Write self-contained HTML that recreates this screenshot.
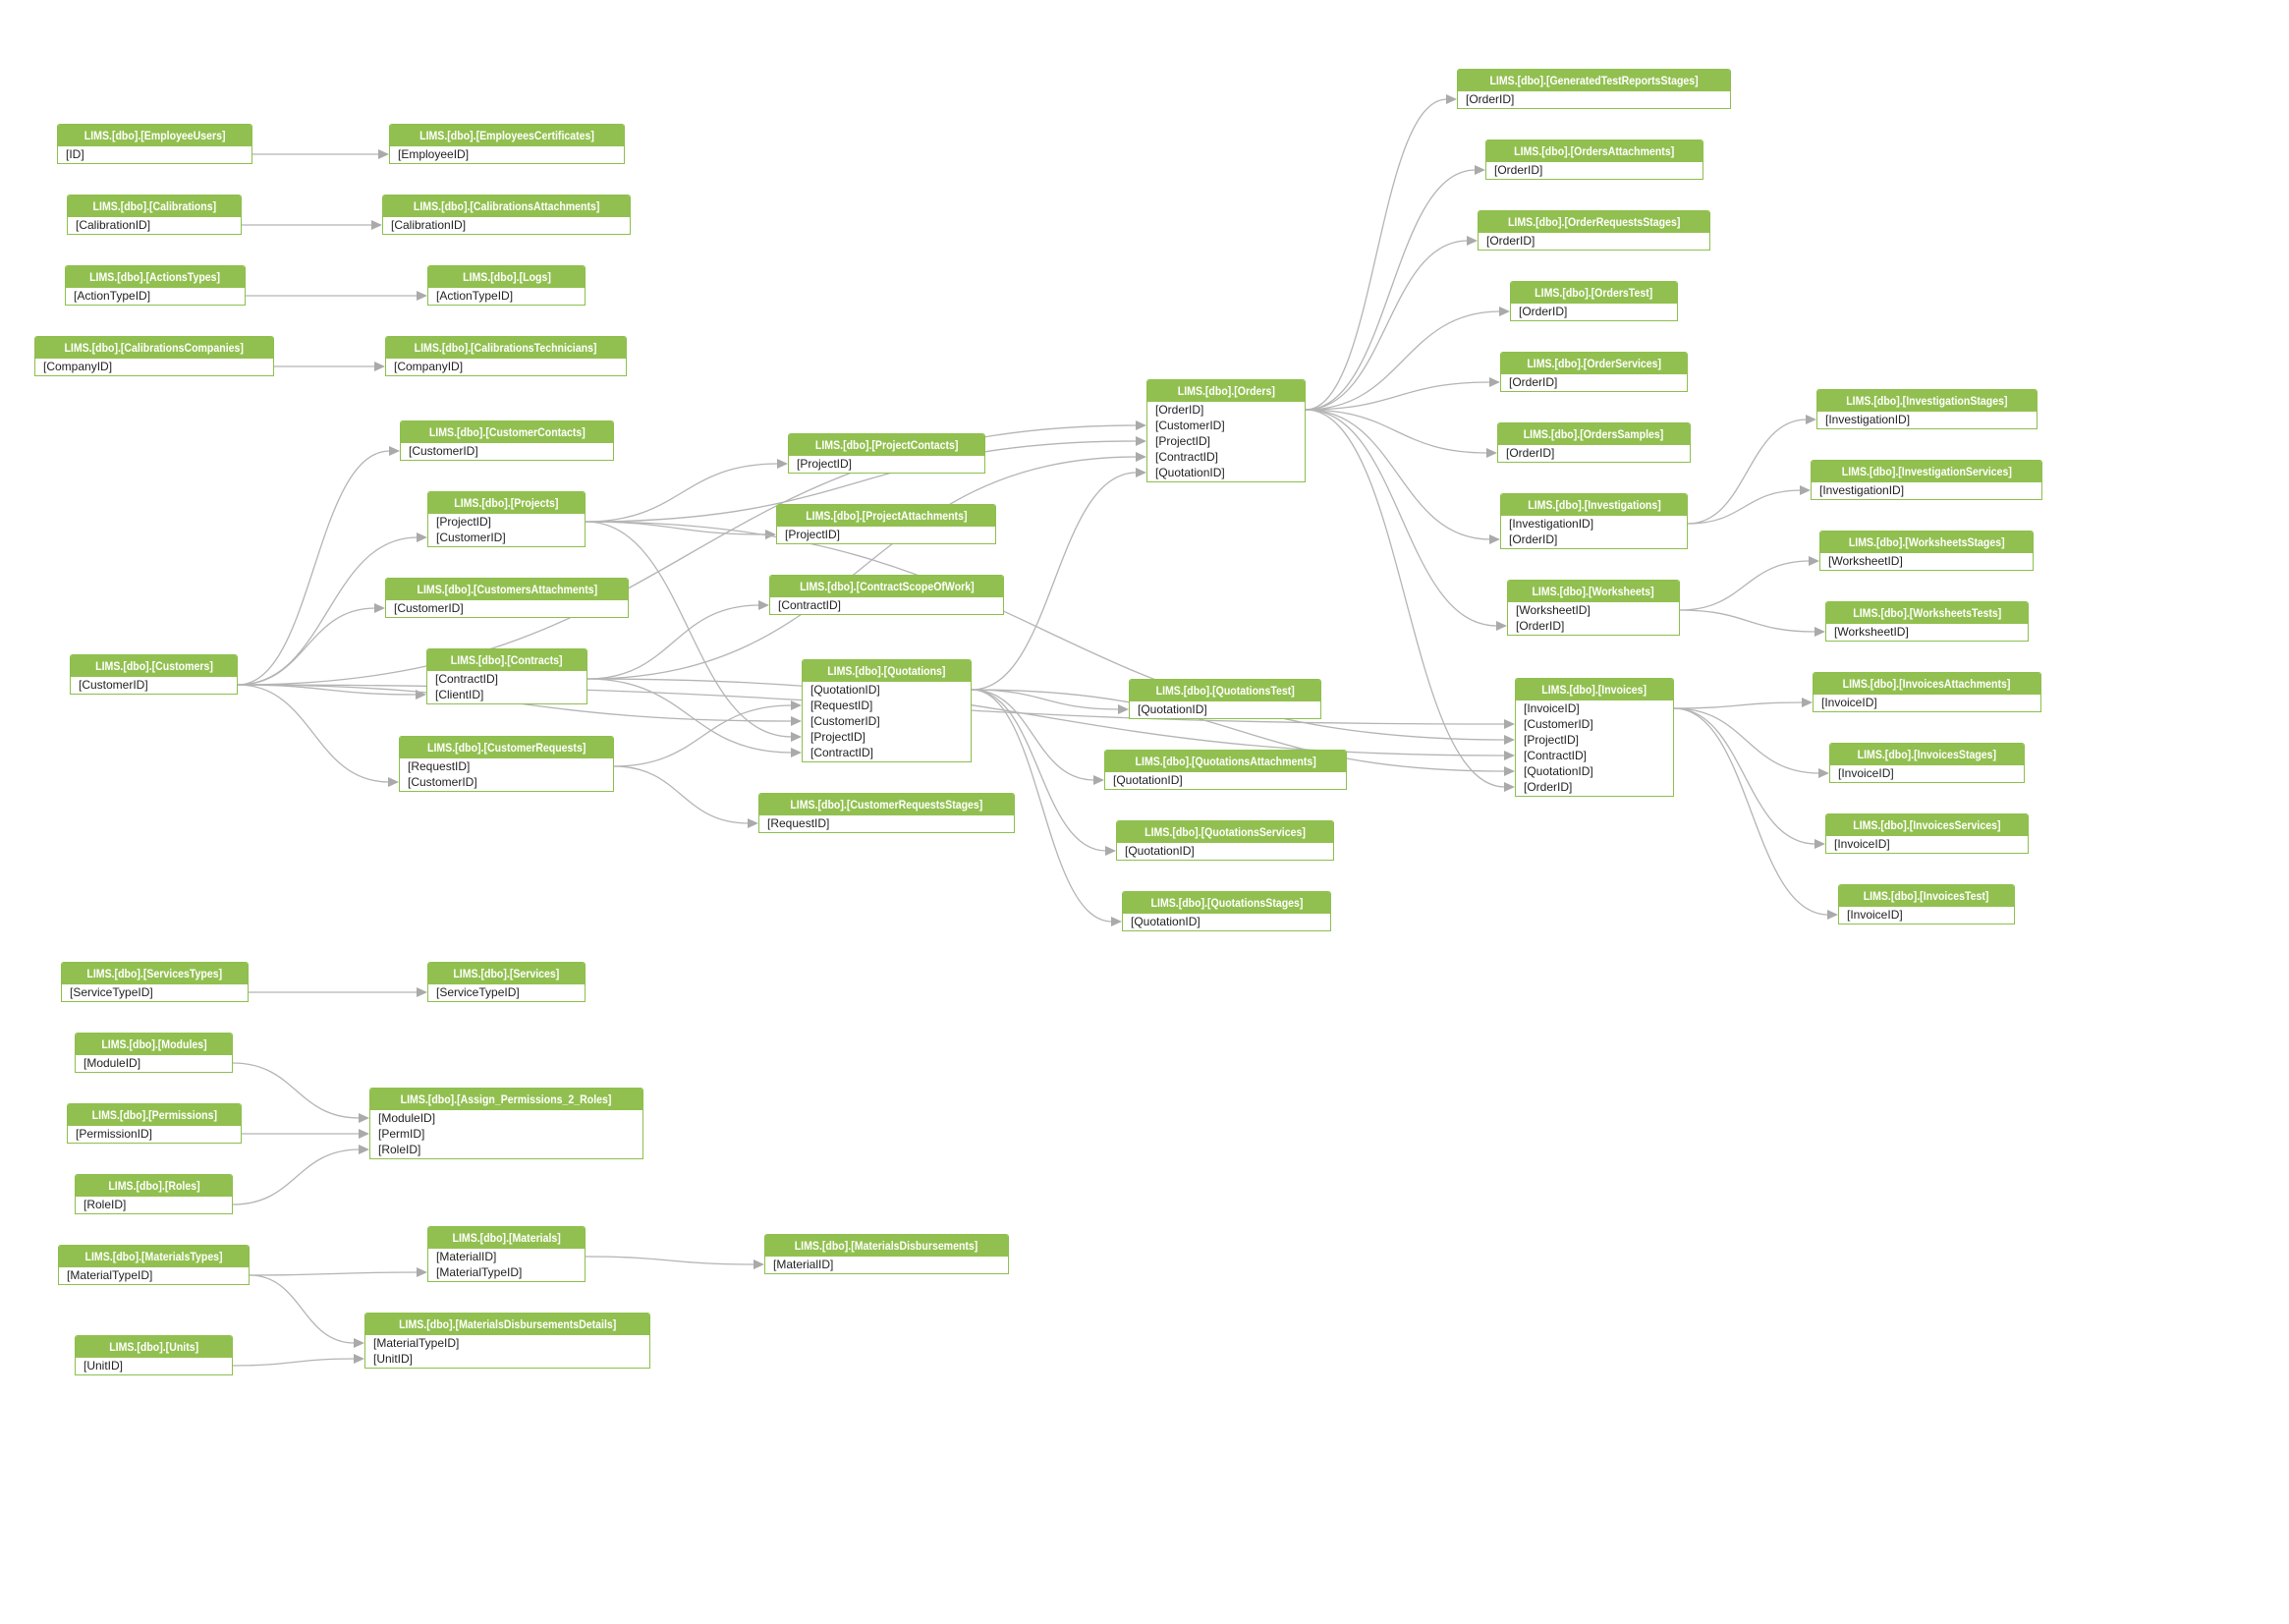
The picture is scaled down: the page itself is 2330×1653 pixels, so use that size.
<!DOCTYPE html>
<html><head><meta charset="utf-8">
<style>
html,body{margin:0;padding:0;background:#fff;}
body{width:2330px;height:1653px;position:relative;overflow:hidden;font-family:"Liberation Sans",sans-serif;}
svg{position:absolute;left:0;top:0;}
.b{position:absolute;border:1px solid #8dbf4c;background:#fff;box-sizing:border-box;border-radius:3px 3px 0 0;padding-bottom:1px;}
.h{height:22px;background:#92c050;color:#fff;font-weight:bold;font-size:12px;line-height:22px;text-align:center;white-space:nowrap;overflow:visible;border-radius:2px 2px 0 0;}
.h span{display:inline-block;transform:scaleX(0.88);transform-origin:center;}
.f{height:16px;line-height:16px;font-size:12px;color:#222;padding-left:8px;white-space:nowrap;}
</style></head><body>
<svg id="L" width="2330" height="1653"></svg>

<div class="b" id="eu" style="left:58px;top:126px;width:199px"><div class="h"><span>LIMS.[dbo].[EmployeeUsers]</span></div><div class="f">[ID]</div></div>
<div class="b" id="ec" style="left:396px;top:126px;width:240px"><div class="h"><span>LIMS.[dbo].[EmployeesCertificates]</span></div><div class="f">[EmployeeID]</div></div>
<div class="b" id="cal" style="left:68px;top:198px;width:178px"><div class="h"><span>LIMS.[dbo].[Calibrations]</span></div><div class="f">[CalibrationID]</div></div>
<div class="b" id="cala" style="left:389px;top:198px;width:253px"><div class="h"><span>LIMS.[dbo].[CalibrationsAttachments]</span></div><div class="f">[CalibrationID]</div></div>
<div class="b" id="at" style="left:66px;top:270px;width:184px"><div class="h"><span>LIMS.[dbo].[ActionsTypes]</span></div><div class="f">[ActionTypeID]</div></div>
<div class="b" id="logs" style="left:435px;top:270px;width:161px"><div class="h"><span>LIMS.[dbo].[Logs]</span></div><div class="f">[ActionTypeID]</div></div>
<div class="b" id="cc" style="left:35px;top:342px;width:244px"><div class="h"><span>LIMS.[dbo].[CalibrationsCompanies]</span></div><div class="f">[CompanyID]</div></div>
<div class="b" id="ct" style="left:392px;top:342px;width:246px"><div class="h"><span>LIMS.[dbo].[CalibrationsTechnicians]</span></div><div class="f">[CompanyID]</div></div>

<div class="b" id="cuc" style="left:407px;top:428px;width:218px"><div class="h"><span>LIMS.[dbo].[CustomerContacts]</span></div><div class="f">[CustomerID]</div></div>
<div class="b" id="proj" style="left:435px;top:500px;width:161px"><div class="h"><span>LIMS.[dbo].[Projects]</span></div><div class="f">[ProjectID]</div><div class="f">[CustomerID]</div></div>
<div class="b" id="cua" style="left:392px;top:588px;width:248px"><div class="h"><span>LIMS.[dbo].[CustomersAttachments]</span></div><div class="f">[CustomerID]</div></div>
<div class="b" id="con" style="left:434px;top:660px;width:164px"><div class="h"><span>LIMS.[dbo].[Contracts]</span></div><div class="f">[ContractID]</div><div class="f">[ClientID]</div></div>
<div class="b" id="cus" style="left:71px;top:666px;width:171px"><div class="h"><span>LIMS.[dbo].[Customers]</span></div><div class="f">[CustomerID]</div></div>
<div class="b" id="cr" style="left:406px;top:749px;width:219px"><div class="h"><span>LIMS.[dbo].[CustomerRequests]</span></div><div class="f">[RequestID]</div><div class="f">[CustomerID]</div></div>

<div class="b" id="pc" style="left:802px;top:441px;width:201px"><div class="h"><span>LIMS.[dbo].[ProjectContacts]</span></div><div class="f">[ProjectID]</div></div>
<div class="b" id="pa" style="left:790px;top:513px;width:224px"><div class="h"><span>LIMS.[dbo].[ProjectAttachments]</span></div><div class="f">[ProjectID]</div></div>
<div class="b" id="csw" style="left:783px;top:585px;width:239px"><div class="h"><span>LIMS.[dbo].[ContractScopeOfWork]</span></div><div class="f">[ContractID]</div></div>
<div class="b" id="quo" style="left:816px;top:671px;width:173px"><div class="h"><span>LIMS.[dbo].[Quotations]</span></div><div class="f">[QuotationID]</div><div class="f">[RequestID]</div><div class="f">[CustomerID]</div><div class="f">[ProjectID]</div><div class="f">[ContractID]</div></div>
<div class="b" id="crs" style="left:772px;top:807px;width:261px"><div class="h"><span>LIMS.[dbo].[CustomerRequestsStages]</span></div><div class="f">[RequestID]</div></div>

<div class="b" id="ord" style="left:1167px;top:386px;width:162px"><div class="h"><span>LIMS.[dbo].[Orders]</span></div><div class="f">[OrderID]</div><div class="f">[CustomerID]</div><div class="f">[ProjectID]</div><div class="f">[ContractID]</div><div class="f">[QuotationID]</div></div>
<div class="b" id="qt" style="left:1149px;top:691px;width:196px"><div class="h"><span>LIMS.[dbo].[QuotationsTest]</span></div><div class="f">[QuotationID]</div></div>
<div class="b" id="qa" style="left:1124px;top:763px;width:247px"><div class="h"><span>LIMS.[dbo].[QuotationsAttachments]</span></div><div class="f">[QuotationID]</div></div>
<div class="b" id="qs" style="left:1136px;top:835px;width:222px"><div class="h"><span>LIMS.[dbo].[QuotationsServices]</span></div><div class="f">[QuotationID]</div></div>
<div class="b" id="qst" style="left:1142px;top:907px;width:213px"><div class="h"><span>LIMS.[dbo].[QuotationsStages]</span></div><div class="f">[QuotationID]</div></div>

<div class="b" id="gtr" style="left:1483px;top:70px;width:279px"><div class="h"><span>LIMS.[dbo].[GeneratedTestReportsStages]</span></div><div class="f">[OrderID]</div></div>
<div class="b" id="oa" style="left:1512px;top:142px;width:222px"><div class="h"><span>LIMS.[dbo].[OrdersAttachments]</span></div><div class="f">[OrderID]</div></div>
<div class="b" id="ors" style="left:1504px;top:214px;width:237px"><div class="h"><span>LIMS.[dbo].[OrderRequestsStages]</span></div><div class="f">[OrderID]</div></div>
<div class="b" id="ot" style="left:1537px;top:286px;width:171px"><div class="h"><span>LIMS.[dbo].[OrdersTest]</span></div><div class="f">[OrderID]</div></div>
<div class="b" id="os" style="left:1527px;top:358px;width:191px"><div class="h"><span>LIMS.[dbo].[OrderServices]</span></div><div class="f">[OrderID]</div></div>
<div class="b" id="osa" style="left:1524px;top:430px;width:197px"><div class="h"><span>LIMS.[dbo].[OrdersSamples]</span></div><div class="f">[OrderID]</div></div>
<div class="b" id="inv" style="left:1527px;top:502px;width:191px"><div class="h"><span>LIMS.[dbo].[Investigations]</span></div><div class="f">[InvestigationID]</div><div class="f">[OrderID]</div></div>
<div class="b" id="ws" style="left:1534px;top:590px;width:176px"><div class="h"><span>LIMS.[dbo].[Worksheets]</span></div><div class="f">[WorksheetID]</div><div class="f">[OrderID]</div></div>
<div class="b" id="invc" style="left:1542px;top:690px;width:162px"><div class="h"><span>LIMS.[dbo].[Invoices]</span></div><div class="f">[InvoiceID]</div><div class="f">[CustomerID]</div><div class="f">[ProjectID]</div><div class="f">[ContractID]</div><div class="f">[QuotationID]</div><div class="f">[OrderID]</div></div>

<div class="b" id="ist" style="left:1849px;top:396px;width:225px"><div class="h"><span>LIMS.[dbo].[InvestigationStages]</span></div><div class="f">[InvestigationID]</div></div>
<div class="b" id="isv" style="left:1843px;top:468px;width:236px"><div class="h"><span>LIMS.[dbo].[InvestigationServices]</span></div><div class="f">[InvestigationID]</div></div>
<div class="b" id="wss" style="left:1852px;top:540px;width:218px"><div class="h"><span>LIMS.[dbo].[WorksheetsStages]</span></div><div class="f">[WorksheetID]</div></div>
<div class="b" id="wst" style="left:1858px;top:612px;width:207px"><div class="h"><span>LIMS.[dbo].[WorksheetsTests]</span></div><div class="f">[WorksheetID]</div></div>
<div class="b" id="ia" style="left:1845px;top:684px;width:233px"><div class="h"><span>LIMS.[dbo].[InvoicesAttachments]</span></div><div class="f">[InvoiceID]</div></div>
<div class="b" id="is" style="left:1862px;top:756px;width:199px"><div class="h"><span>LIMS.[dbo].[InvoicesStages]</span></div><div class="f">[InvoiceID]</div></div>
<div class="b" id="isvc" style="left:1858px;top:828px;width:207px"><div class="h"><span>LIMS.[dbo].[InvoicesServices]</span></div><div class="f">[InvoiceID]</div></div>
<div class="b" id="it" style="left:1871px;top:900px;width:180px"><div class="h"><span>LIMS.[dbo].[InvoicesTest]</span></div><div class="f">[InvoiceID]</div></div>

<div class="b" id="st" style="left:62px;top:979px;width:191px"><div class="h"><span>LIMS.[dbo].[ServicesTypes]</span></div><div class="f">[ServiceTypeID]</div></div>
<div class="b" id="sv" style="left:435px;top:979px;width:161px"><div class="h"><span>LIMS.[dbo].[Services]</span></div><div class="f">[ServiceTypeID]</div></div>
<div class="b" id="mod" style="left:76px;top:1051px;width:161px"><div class="h"><span>LIMS.[dbo].[Modules]</span></div><div class="f">[ModuleID]</div></div>
<div class="b" id="perm" style="left:68px;top:1123px;width:178px"><div class="h"><span>LIMS.[dbo].[Permissions]</span></div><div class="f">[PermissionID]</div></div>
<div class="b" id="roles" style="left:76px;top:1195px;width:161px"><div class="h"><span>LIMS.[dbo].[Roles]</span></div><div class="f">[RoleID]</div></div>
<div class="b" id="apr" style="left:376px;top:1107px;width:279px"><div class="h"><span>LIMS.[dbo].[Assign_Permissions_2_Roles]</span></div><div class="f">[ModuleID]</div><div class="f">[PermID]</div><div class="f">[RoleID]</div></div>
<div class="b" id="mat" style="left:435px;top:1248px;width:161px"><div class="h"><span>LIMS.[dbo].[Materials]</span></div><div class="f">[MaterialID]</div><div class="f">[MaterialTypeID]</div></div>
<div class="b" id="mt" style="left:59px;top:1267px;width:195px"><div class="h"><span>LIMS.[dbo].[MaterialsTypes]</span></div><div class="f">[MaterialTypeID]</div></div>
<div class="b" id="md" style="left:778px;top:1256px;width:249px"><div class="h"><span>LIMS.[dbo].[MaterialsDisbursements]</span></div><div class="f">[MaterialID]</div></div>
<div class="b" id="mdd" style="left:371px;top:1336px;width:291px"><div class="h"><span>LIMS.[dbo].[MaterialsDisbursementsDetails]</span></div><div class="f">[MaterialTypeID]</div><div class="f">[UnitID]</div></div>
<div class="b" id="un" style="left:76px;top:1359px;width:161px"><div class="h"><span>LIMS.[dbo].[Units]</span></div><div class="f">[UnitID]</div></div>

<script>
var E=[
["eu",0,"ec",0],["cal",0,"cala",0],["at",0,"logs",0],["cc",0,"ct",0],
["cus",0,"cuc",0],["cus",0,"proj",1],["cus",0,"cua",0],["cus",0,"con",1],["cus",0,"cr",1],["cus",0,"quo",2],["cus",0,"ord",1],["cus",0,"invc",1],
["proj",0,"pc",0],["proj",0,"pa",0],["proj",0,"quo",3],["proj",0,"ord",2],["proj",0,"invc",2],
["con",0,"csw",0],["con",0,"quo",4],["con",0,"ord",3],["con",0,"invc",3],
["cr",0,"quo",1],["cr",0,"crs",0],
["quo",0,"ord",4],["quo",0,"qt",0],["quo",0,"qa",0],["quo",0,"qs",0],["quo",0,"qst",0],["quo",0,"invc",4],
["ord",0,"gtr",0],["ord",0,"oa",0],["ord",0,"ors",0],["ord",0,"ot",0],["ord",0,"os",0],["ord",0,"osa",0],["ord",0,"inv",1],["ord",0,"ws",1],["ord",0,"invc",5],
["inv",0,"ist",0],["inv",0,"isv",0],["ws",0,"wss",0],["ws",0,"wst",0],
["invc",0,"ia",0],["invc",0,"is",0],["invc",0,"isvc",0],["invc",0,"it",0],
["st",0,"sv",0],["mod",0,"apr",0],["perm",0,"apr",1],["roles",0,"apr",2],
["mt",0,"mat",1],["mt",0,"mdd",0],["mat",0,"md",0],["un",0,"mdd",1]
];
var svg=document.getElementById("L"),ns="http://www.w3.org/2000/svg",h="";
function g(id){var e=document.getElementById(id);return {x:parseFloat(e.style.left),y:parseFloat(e.style.top),w:parseFloat(e.style.width)};}
E.forEach(function(e){
 var s=g(e[0]),t=g(e[2]);
 var x1=s.x+s.w,y1=s.y+23+16*e[1]+8,x2=t.x,y2=t.y+23+16*e[3]+8,xe=x2-10;
 var d=Math.max(30,(xe-x1)/2);
 h+='<path d="M'+x1+' '+y1+' C'+(x1+d)+' '+y1+' '+(xe-d)+' '+y2+' '+xe+' '+y2+'" fill="none" stroke="#b4b4b4" stroke-width="1.3"/>';
 h+='<polygon points="'+(x2-11)+','+(y2-5)+' '+x2+','+y2+' '+(x2-11)+','+(y2+5)+'" fill="#aaaaaa"/>';
});
svg.innerHTML=h;
</script>
</body></html>
